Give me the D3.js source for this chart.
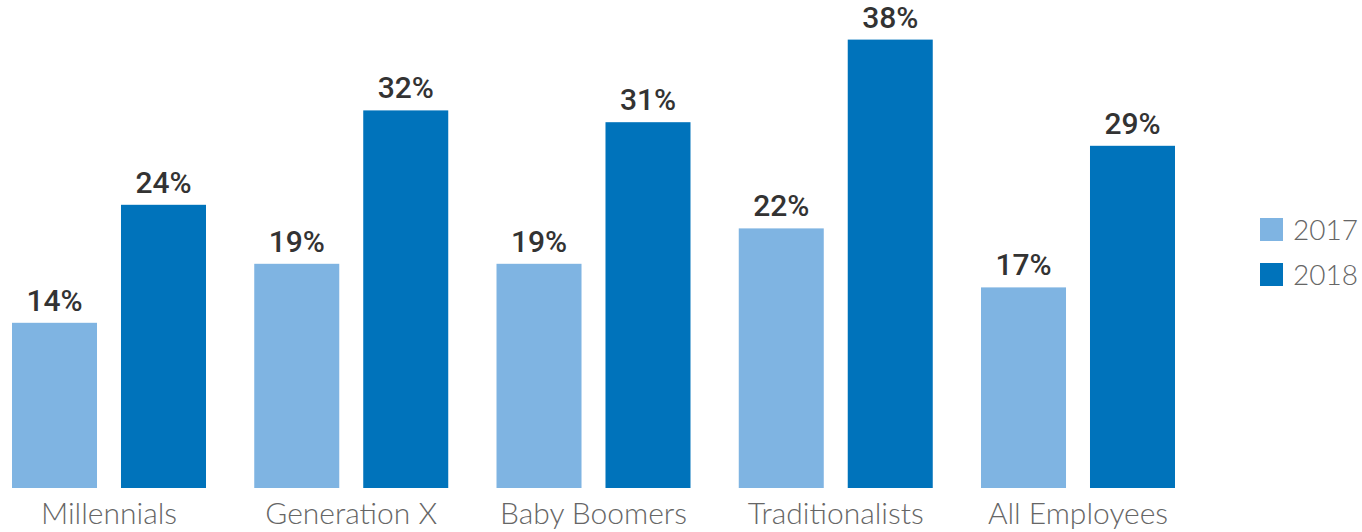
<!DOCTYPE html>
<html>
<head>
<meta charset="utf-8">
<script src="https://cdn.jsdelivr.net/npm/d3@7"></script>
<style>
  html, body { margin: 0; padding: 0; background: #ffffff; }
  svg { display: block; }
</style>
</head>
<body>
<svg id="chart" width="1362" height="532"></svg>
<script>
// Share of employees by generation, 2017 vs 2018
const categories = ["Millennials", "Generation X", "Baby Boomers", "Traditionalists", "All Employees"];
const years = ["2017", "2018"];
const values2017 = [14, 19, 19, 22, 17];
const values2018 = [24, 32, 31, 38, 29];
const colors = ["#7fb4e2", "#0073bb"];

const seriesValues = [values2017, values2018];
const rows = categories.map((c, i) => ({
  category: c,
  values: years.map((y, j) => ({ year: y, value: seriesValues[j][i], color: colors[j] }))
}));

const svg = d3.select("#chart");
const baseline = 488;

const x0 = d3.scaleBand()
  .domain(categories)
  .range([12, 1175])
  .paddingInner(0.1992)
  .paddingOuter(0);

const x1 = d3.scaleBand()
  .domain(years)
  .range([0, x0.bandwidth()])
  .paddingInner(0.22)
  .paddingOuter(0);

const y = d3.scaleLinear()
  .domain([0, 40])
  .range([baseline, baseline - 472]);

const groups = svg.append("g")
  .selectAll("g")
  .data(rows)
  .join("g")
  .attr("transform", d => `translate(${x0(d.category)},0)`);

groups.selectAll("rect")
  .data(d => d.values)
  .join("rect")
  .attr("x", d => x1(d.year))
  .attr("y", d => y(d.value))
  .attr("width", x1.bandwidth())
  .attr("height", d => baseline - y(d.value))
  .attr("fill", d => d.color);

groups.selectAll("text.value")
  .data(d => d.values)
  .join("text")
  .attr("class", "value")
  .attr("x", d => x1(d.year) + x1.bandwidth() / 2)
  .attr("y", d => y(d.value) - 12)
  .attr("text-anchor", "middle")
  .attr("font-family", "Roboto, sans-serif")
  .attr("font-weight", 500)
  .attr("font-size", 30)
  .attr("fill", "#333333")
  .text(d => d.value + "%");

// Category axis labels beneath each group
const xAxis = d3.axisBottom(x0).tickSize(0).tickPadding(0);
const axisG = svg.append("g")
  .attr("transform", `translate(0,${baseline})`)
  .call(xAxis);
axisG.select(".domain").remove();
axisG.selectAll("text")
  .attr("dy", null)
  .attr("y", 36)
  .attr("font-family", "Lato, sans-serif")
  .attr("font-weight", 300)
  .attr("font-size", 30)
  .attr("fill", "#666666");

// Legend
const legend = svg.append("g")
  .selectAll("g")
  .data(years)
  .join("g")
  .attr("transform", (d, i) => `translate(1260,${218 + i * 45})`);

legend.append("rect")
  .attr("width", 23)
  .attr("height", 23)
  .attr("fill", (d, i) => colors[i]);

legend.append("text")
  .attr("x", 33)
  .attr("y", 22)
  .attr("font-family", "Lato, sans-serif")
  .attr("font-weight", 300)
  .attr("font-size", 28)
  .attr("fill", "#666666")
  .text(d => d);
</script>
</body>
</html>
